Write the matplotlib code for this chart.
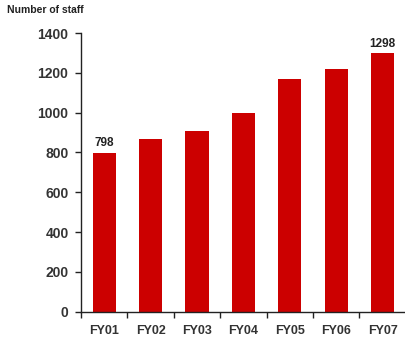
import numpy as np
import matplotlib
matplotlib.use("Agg")
import matplotlib.pyplot as plt

# data
years = ["FY01", "FY02", "FY03", "FY04", "FY05", "FY06", "FY07"]
staff = [798, 867, 908, 998, 1168, 1219, 1298]
labelled = {0: "798", 6: "1298"}

plt.rcParams['font.family'] = ['Liberation Sans', 'DejaVu Sans']
text_col = '#333333'

fig = plt.figure(figsize=(4.05, 3.37), dpi=100)
ax = fig.add_axes([0.2, 0.075, 0.802, 0.827])

x = np.arange(len(years))
ax.bar(x, staff, width=0.5, color='#cc0000', zorder=2)

for i, txt in labelled.items():
    ax.text(x[i], staff[i] + 18, txt, ha='center', va='bottom',
            fontsize=8.5, fontweight='bold', color='#222222')

ax.set_xlim(-0.5, len(years) - 0.5)
ax.set_ylim(0, 1400)
ax.set_yticks(np.arange(0, 1401, 200))
ax.set_xticks(x)
ax.set_xticklabels(years)
ax.set_xticks(np.arange(-0.5, len(years)), minor=True)

ax.tick_params(axis='x', which='major', length=0, pad=9.5, labelsize=9, labelcolor=text_col)
ax.tick_params(axis='x', which='minor', length=4, width=1, color='#222222')
ax.tick_params(axis='y', length=4, width=1, color='#222222', pad=5, labelsize=10, labelcolor=text_col)
for lab in ax.get_xticklabels() + ax.get_yticklabels():
    lab.set_fontweight('bold')

for s in ['top', 'right']:
    ax.spines[s].set_visible(False)
for s in ['left', 'bottom']:
    ax.spines[s].set_color('#222222')
    ax.spines[s].set_linewidth(1)

fig.text(0.017, 0.97, "Number of staff", ha='left', va='center',
         fontsize=7.5, fontweight='bold', color='#222222')

fig.savefig("out.png", dpi=100)
